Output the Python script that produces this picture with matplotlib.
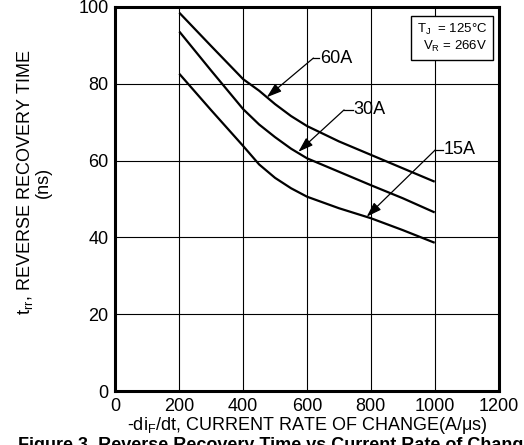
import numpy as np
import matplotlib
matplotlib.use('Agg')
import matplotlib.pyplot as plt

plt.rcParams['font.family'] = ['Liberation Sans', 'DejaVu Sans']
plt.rcParams['mathtext.default'] = 'regular'

# data
didt = [200, 300, 400, 450, 500, 550, 600, 700, 800, 900, 1000]
trr_60a = [98.5, 89.8, 81.2, 78.2, 74.7, 71.6, 69.0, 65.0, 61.5, 58.0, 54.5]
trr_30a = [93.6, 83.4, 73.4, 69.4, 66.1, 63.1, 60.6, 57.1, 53.6, 50.2, 46.5]
trr_15a = [82.6, 73.1, 63.8, 59.0, 55.5, 52.8, 50.6, 47.6, 45.0, 41.9, 38.6]
x_ticks = [0, 200, 400, 600, 800, 1000, 1200]
y_ticks = [0, 20, 40, 60, 80, 100]

# label, text pos, arrow start, arrow tip
labels = [('60A', (640, 86.7), (620, 86.7), (474, 76.5)),
          ('30A', (745, 73.2), (716, 73.2), (573, 62.3)),
          ('15A', (1027, 62.8), (1002, 62.8), (787, 45.4))]

fig = plt.figure(figsize=(5.24, 4.45), dpi=100)
ax = fig.add_axes([0.2204, 0.1213, 0.731, 0.863])

for y in [trr_60a, trr_30a, trr_15a]:
    ax.plot(didt, y, color='black', lw=1.6, solid_capstyle='butt')

ax.set_xlim(0, 1200)
ax.set_ylim(0, 100)
ax.set_xticks(x_ticks)
ax.set_yticks(y_ticks)
ax.tick_params(length=0, labelsize=13, pad=5)
ax.grid(True, color='black', lw=0.8)
for s in ax.spines.values():
    s.set_linewidth(2.2)

for lab, tpos, start, tip in labels:
    ax.text(tpos[0], tpos[1], lab, fontsize=13, va='center', ha='left')
    ax.plot([start[0], tpos[0] - 2], [start[1], start[1]], color='black', lw=0.9)
    ax.annotate('', xy=tip, xytext=start,
                arrowprops=dict(arrowstyle='-|>,head_length=0.9,head_width=0.3',
                                color='black', lw=0.9, shrinkA=0, shrinkB=0))

ax.text(0.971, 0.96, 'T$_{J}$  = 125°C\nV$_{R}$ = 266V', transform=ax.transAxes,
        ha='right', va='top', fontsize=9.5, linespacing=1.1,
        bbox=dict(boxstyle='square,pad=0.45', fc='white', ec='black', lw=1.0))

ax.set_xlabel('-di$_F$/dt, CURRENT RATE OF CHANGE(A/μs)', fontsize=13, labelpad=0)
fig.text(0.048, 0.591, 't$_{rr}$, REVERSE RECOVERY TIME', rotation=90,
         ha='center', va='center', fontsize=13)
fig.text(0.083, 0.591, '(ns)', rotation=90, ha='center', va='center', fontsize=13)

fig.text(0.035, 0.018, 'Figure 3. Reverse Recovery Time vs Current Rate of Change',
         fontsize=13, fontweight='bold', ha='left', va='top')

fig.savefig('out.png', dpi=100)
